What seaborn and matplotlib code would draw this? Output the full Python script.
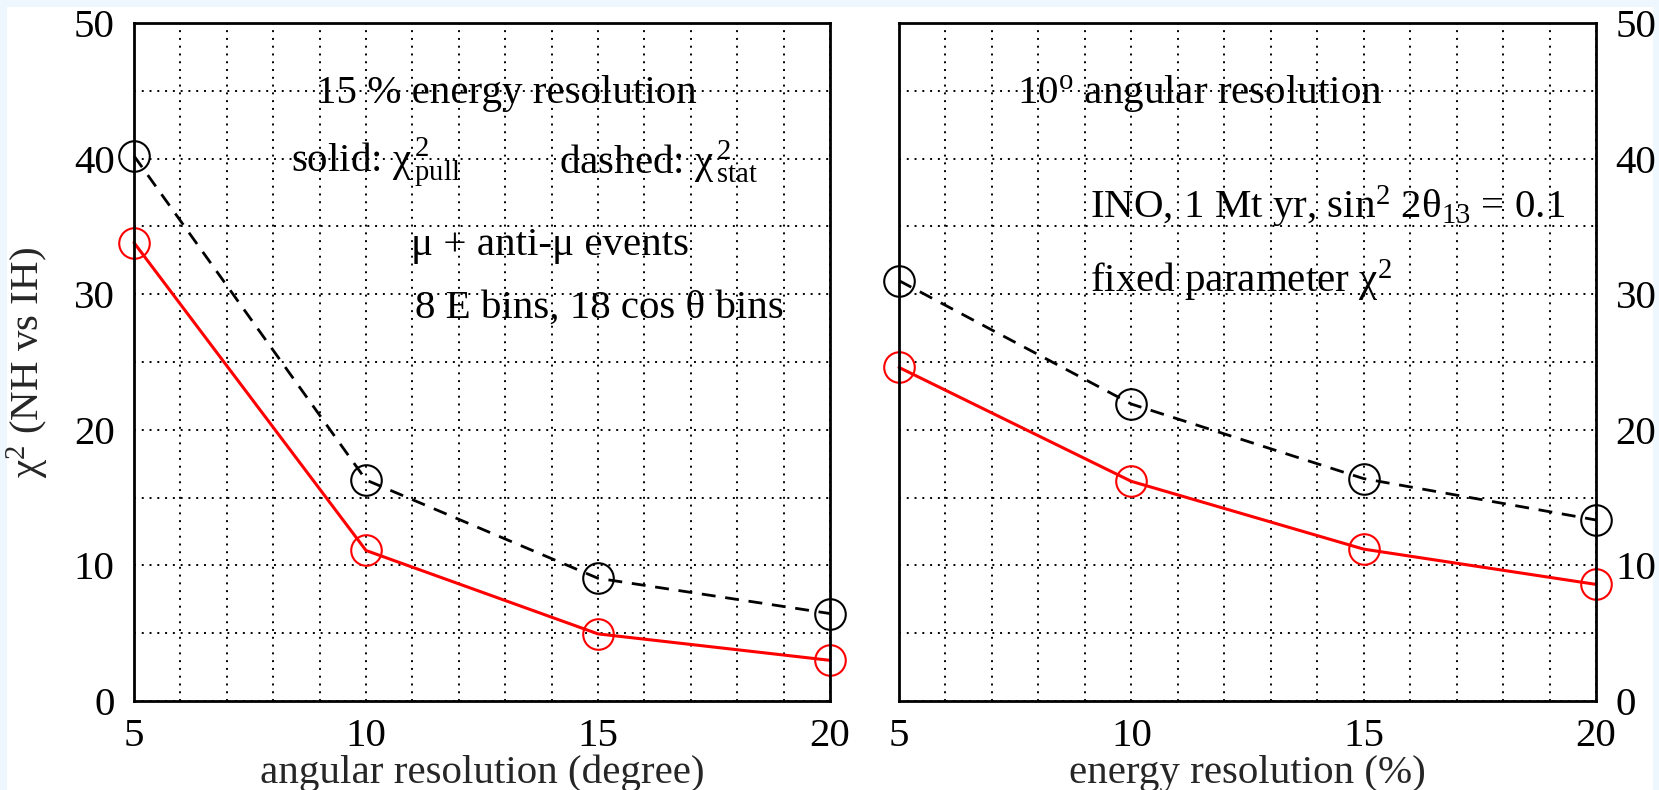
import numpy as np
import pandas as pd
import matplotlib
matplotlib.use("Agg")
import matplotlib.pyplot as plt
from matplotlib.patches import Rectangle
from matplotlib.ticker import MultipleLocator
import seaborn as sns

# ---- data ----
resolution = [5, 10, 15, 20]
ang_pull = [33.8, 11.1, 4.95, 3.0]
ang_stat = [40.2, 16.3, 9.05, 6.45]
en_pull = [24.6, 16.2, 11.2, 8.6]
en_stat = [31.0, 21.9, 16.4, 13.35]
yticks = [0, 10, 20, 30, 40, 50]
xticks = [5, 10, 15, 20]

sns.set_theme(style="white")
plt.rcParams['font.family'] = ['Liberation Serif', 'DejaVu Serif']
plt.rcParams['mathtext.fontset'] = 'custom'
plt.rcParams['mathtext.rm'] = 'Liberation Serif'
plt.rcParams['mathtext.it'] = 'Liberation Serif'
plt.rcParams['mathtext.bf'] = 'Liberation Serif'
FS = 29.5

fig = plt.figure(figsize=(16.59, 7.90), dpi=100)
fig.patch.set_facecolor('#eef6fe')
fig.patches.append(Rectangle((7 / 1659, 0), (1653 - 7) / 1659, (790 - 7) / 790,
                             transform=fig.transFigure, facecolor='white',
                             edgecolor='none', zorder=-100))

axL = fig.add_axes([134 / 1659, 1 - 701 / 790, 696 / 1659, 678 / 790])
axR = fig.add_axes([899 / 1659, 1 - 701 / 790, 697 / 1659, 678 / 790])


def draw(ax, pull, stat):
    ax.set_facecolor('white')
    df = pd.DataFrame({"res": resolution, "pull": pull, "stat": stat})
    sns.lineplot(data=df, x="res", y="stat", ax=ax, color='black', linewidth=2.0,
                 marker='o', markersize=22, markerfacecolor='none',
                 markeredgecolor='black', markeredgewidth=1.5, clip_on=False, zorder=3)
    ax.lines[-1].set_dashes((5, 3.5))
    sns.lineplot(data=df, x="res", y="pull", ax=ax, color='red', linewidth=2.2,
                 marker='o', markersize=22, markerfacecolor='none',
                 markeredgecolor='red', markeredgewidth=1.5, clip_on=False, zorder=3)
    ax.set_xlim(5, 20)
    ax.set_ylim(0, 50)
    ax.set_xticks(xticks)
    ax.set_yticks(yticks)
    ax.xaxis.set_minor_locator(MultipleLocator(1))
    ax.yaxis.set_minor_locator(MultipleLocator(5))
    ax.grid(True, which='both', color='black', linestyle=(0, (1, 3)), linewidth=1.4)
    ax.set_axisbelow(True)
    for s in ax.spines.values():
        s.set_color('black')
        s.set_linewidth(2.0)
        s.set_zorder(4)
    ax.tick_params(axis='both', which='both', length=0, labelsize=FS, colors='black')
    ax.tick_params(axis='x', pad=12)
    ax.tick_params(axis='y', pad=14)


draw(axL, ang_pull, ang_stat)
draw(axR, en_pull, en_stat)

axL.set_xlabel("angular resolution (degree)", fontsize=FS, labelpad=0)
axL.set_ylabel("χ$^2$ (NH vs IH)", fontsize=FS, labelpad=16)
axR.set_xlabel("energy resolution (%)", fontsize=FS, labelpad=0)
axR.set_ylabel("")
axR.yaxis.tick_right()
axR.tick_params(axis='y', pad=14)

tk = dict(fontsize=FS, va='center', ha='left', color='black')
axL.text(8.92, 44.8, "15 % energy resolution", **tk)
axL.text(8.38, 39.7, r"solid: χ$^{\,2}_{\,\rm pull}$", **tk)
axL.text(14.15, 39.7, r"dashed: χ$^{\,2}_{\,\rm stat}$", **tk)
axL.text(10.98, 33.6, "μ + anti-μ events", **tk)
axL.text(11.06, 29.0, "8 E bins, 18 cos θ bins", **tk)

axR.text(7.54, 44.8, r"10$^{\rm o}$ angular resolution", **tk)
axR.text(9.11, 36.4, r"INO, 1 Mt yr, sin$^2$ 2θ$_{13}$ = 0.1", **tk)
axR.text(9.11, 31.0, r"fixed parameter χ$^2$", **tk)

fig.savefig("out.png", dpi=100, facecolor=fig.get_facecolor())
